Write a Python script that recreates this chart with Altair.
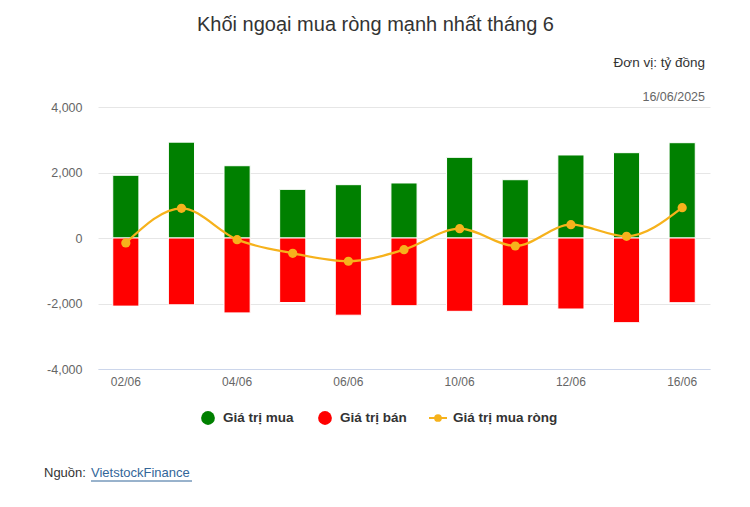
import altair as alt
import pandas as pd

dates = ["02/06", "03/06", "04/06", "05/06", "06/06", "09/06", "10/06", "11/06", "12/06", "13/06", "16/06"]
buy = [1915, 2927, 2207, 1485, 1628, 1680, 2463, 1780, 2535, 2605, 2910]
sell = [-2080, -2040, -2287, -1970, -2357, -2067, -2239, -2067, -2168, -2585, -1975]
net = [-150, 905, -50, -467, -710, -357, 285, -244, 407, 52, 926]
x_labels = ["02/06", "04/06", "06/06", "10/06", "12/06", "16/06"]
y_ticks = [-4000, -2000, 0, 2000, 4000]

FONT = "Liberation Sans"
GREEN = "#008000"
RED = "#ff0000"
ORANGE = "#f6b21c"

bars = pd.DataFrame({
    "date": dates * 2,
    "value": buy + sell,
    "series": ["Giá trị mua"] * len(dates) + ["Giá trị bán"] * len(dates),
})
nets = pd.DataFrame({"date": dates, "net": net})
one = pd.DataFrame({"a": [0]})

xscale = alt.Scale(domain=dates, paddingInner=0.53, paddingOuter=0.265)
xaxis = alt.Axis(values=x_labels, title=None, labelAngle=0, labelColor="#666666",
                 labelFontSize=12, labelFont=FONT, domainColor="#ccd6eb", ticks=False,
                 labelPadding=7, grid=False)
yscale = alt.Scale(domain=[-4000, 4000], nice=False)
yaxis = alt.Axis(values=y_ticks, format=",.0f", title=None, labelColor="#666666",
                 labelFontSize=12.5, labelFont=FONT, domain=False, ticks=False,
                 labelExpr="replace(datum.label, '\u2212', '-')",
                 labelPadding=16, gridColor="#e6e6e6", gridWidth=1)

bar_layer = alt.Chart(bars).mark_bar(stroke="white", strokeWidth=1).encode(
    x=alt.X("date:N", scale=xscale, axis=xaxis, sort=dates),
    y=alt.Y("value:Q", scale=yscale, axis=yaxis),
    y2=alt.datum(0),
    color=alt.Color("series:N", scale=alt.Scale(domain=["Giá trị mua", "Giá trị bán"],
                                                range=[GREEN, RED]), legend=None),
)

line_layer = alt.Chart(nets).mark_line(color=ORANGE, strokeWidth=2.3, interpolate="monotone").encode(
    x=alt.X("date:N", scale=xscale, sort=dates),
    y=alt.Y("net:Q", scale=yscale),
)
pt_layer = alt.Chart(nets).mark_point(color=ORANGE, filled=True, opacity=1, size=85).encode(
    x=alt.X("date:N", scale=xscale, sort=dates),
    y=alt.Y("net:Q", scale=yscale),
)


def txt(s, x, y, size=12, color="#333333", align="left", weight="normal"):
    return alt.Chart(one).mark_text(text=s, font=FONT, fontSize=size, color=color,
                                    align=align, baseline="middle", fontWeight=weight).encode(
        x=alt.value(x), y=alt.value(y))


def dot(x, y, color, size):
    return alt.Chart(one).mark_point(filled=True, opacity=1, color=color, size=size,
                                     shape="circle").encode(x=alt.value(x), y=alt.value(y))


OX, OY = 98, 107
title = txt("Khối ngoại mua ròng mạnh nhất tháng 6", 375.5 - OX, 25 - OY, size=20,
            color="#333333", align="center")
unit = txt("Đơn vị: tỷ đồng", 705 - OX, 63 - OY, size=13.5, align="right")
date_t = txt("16/06/2025", 705 - OX, 97 - OY, size=12.5, color="#666666", align="right")

leg_y = 418 - OY
leg = [
    dot(208 - OX, leg_y, GREEN, 190),
    txt("Giá trị mua", 223 - OX, leg_y, size=13.5, weight="bold"),
    dot(325 - OX, leg_y, RED, 190),
    txt("Giá trị bán", 340 - OX, leg_y, size=13.5, weight="bold"),
    alt.Chart(one).mark_rule(color=ORANGE, strokeWidth=2).encode(
        x=alt.value(429 - OX), x2=alt.value(447 - OX), y=alt.value(leg_y)),
    dot(438 - OX, leg_y, ORANGE, 60),
    txt("Giá trị mua ròng", 453 - OX, leg_y, size=13.5, weight="bold"),
]

src = [
    txt("Nguồn:", 44 - OX, 473 - OY, size=13, color="#333333"),
    txt("VietstockFinance", 91 - OX, 473 - OY, size=13, color="#336699"),
    alt.Chart(one).mark_rule(color="#336699", strokeWidth=1).encode(
        x=alt.value(91 - OX), x2=alt.value(192 - OX), y=alt.value(481 - OY)),
]

chart = alt.layer(bar_layer, line_layer, pt_layer, title, unit, date_t, *leg, *src).properties(
    width=612, height=262,
    autosize=alt.AutoSizeParams(type="none"),
    padding={"left": OX, "top": OY, "right": 40, "bottom": 138},
    background="white",
).configure_view(stroke=None)

chart.save("out.html", embed_options={"renderer": "svg", "actions": False})
